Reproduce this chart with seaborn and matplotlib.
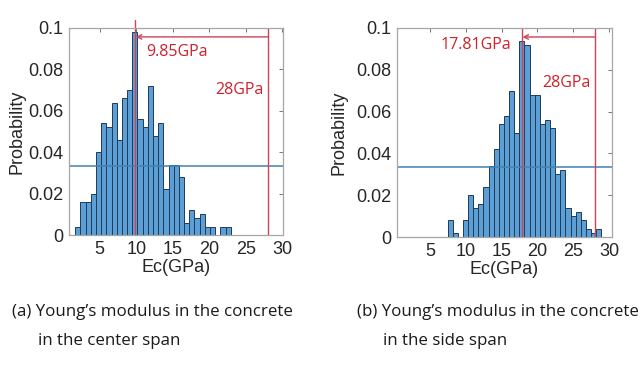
import numpy as np
import pandas as pd
import matplotlib
matplotlib.use("Agg")
import matplotlib.pyplot as plt
import seaborn as sns

# probability per bin (30 bins each)
center_probs = [0.004, 0.016, 0.016, 0.020, 0.040, 0.054, 0.052, 0.064, 0.046, 0.066,
                0.070, 0.098, 0.056, 0.052, 0.072, 0.048, 0.054, 0.022, 0.034, 0.034,
                0.028, 0.006, 0.012, 0.008, 0.010, 0.004, 0.004, 0.000, 0.004, 0.004]
side_probs = [0.008, 0.002, 0.000, 0.008, 0.020, 0.014, 0.016, 0.024, 0.034, 0.042,
              0.054, 0.058, 0.070, 0.050, 0.094, 0.092, 0.068, 0.068, 0.054, 0.056,
              0.052, 0.030, 0.032, 0.014, 0.010, 0.012, 0.008, 0.004, 0.002, 0.004]
center_range = (1.65, 22.95)
side_range = (7.45, 28.9)

center_peak = 9.85
side_peak = 17.81
limit_value = 28
uniform_level = 1 / 30

xticks = [5, 10, 15, 20, 25, 30]
yticks = [0, 0.02, 0.04, 0.06, 0.08, 0.1]
ytick_labels = ["0", "0.02", "0.04", "0.06", "0.08", "0.1"]

captions = ["(a) Young\u2019s modulus in the concrete\n     in the center span",
            "(b) Young\u2019s modulus in the concrete\n     in the side span"]

sns.set_style("white")
plt.rcParams["font.family"] = ["Liberation Sans", "DejaVu Sans"]

BAR = "#5b9fd6"
EDGE = "#1f3b57"
RED = "#d0202a"
RLINE = "#cc4455"
HLINE = "#3f82b4"


def draw_panel(ax, probs, rng, peak, xlim, label_pos, peak_text_pos, peak_ha,
               peak_top=1.0, ylabelpad=2):
    edges = np.linspace(rng[0], rng[1], len(probs) + 1)
    df = pd.DataFrame({"Ec": (edges[:-1] + edges[1:]) / 2, "p": probs})
    sns.histplot(data=df, x="Ec", weights="p", bins=edges.tolist(), ax=ax, color=BAR,
                 alpha=1, edgecolor=EDGE, linewidth=0.7)
    ax.axhline(uniform_level, color=HLINE, lw=1.1)
    ax.axvline(peak, ymax=peak_top, color=RLINE, lw=1.0, clip_on=False)
    ax.axvline(limit_value, color=RLINE, lw=1.0)
    ax.annotate("", xy=(peak + 0.1, 0.0957), xytext=(limit_value, 0.0957),
                arrowprops=dict(arrowstyle="->", color=RLINE, lw=1.0,
                                shrinkA=0, shrinkB=0, mutation_scale=8))
    ax.text(peak_text_pos[0], peak_text_pos[1], f"{peak}GPa", color=RED,
            fontsize=11.5, family=["Open Sans", "DejaVu Sans"], ha=peak_ha, va="center")
    ax.text(label_pos[0], label_pos[1], f"{limit_value}GPa", color=RED,
            fontsize=11.5, family=["Open Sans", "DejaVu Sans"], ha="left", va="center")
    ax.set_xlim(*xlim)
    ax.set_ylim(0, 0.1)
    ax.set_xticks(xticks)
    ax.set_yticks(yticks)
    ax.set_yticklabels(ytick_labels)
    ax.tick_params(direction="in", top=True, right=True, length=3, width=0.6,
                   labelsize=13, color="#606060", pad=4)
    for s in ax.spines.values():
        s.set_color("#a6a6a6")
        s.set_linewidth(0.9)
    ax.set_xlabel("Ec(GPa)", fontsize=13, labelpad=1)
    ax.set_ylabel("Probability", fontsize=13, labelpad=ylabelpad)


fig = plt.figure(figsize=(6.42, 3.70), dpi=100)
ax1 = fig.add_axes([69 / 642, 135 / 370, 214 / 642, 207 / 370])
ax2 = fig.add_axes([397 / 642, 133 / 370, 215 / 642, 209 / 370])

draw_panel(ax1, center_probs, center_range, center_peak, (0.8, 30.1),
           (20.8, 0.070), (11.4, 0.0885), "left", peak_top=1.04)
draw_panel(ax2, side_probs, side_range, side_peak, (0.4, 30.4),
           (20.6, 0.0735), (16.3, 0.092), "right", ylabelpad=6)

for i, x0 in enumerate([12, 357]):
    first, second = captions[i].split("\n")
    fig.text(x0 / 642, 1 - 312 / 370, first, fontsize=12.2, color="#1a1a1a",
             family=["Open Sans", "DejaVu Sans"], va="center")
    fig.text((x0 + 26) / 642, 1 - 341 / 370, second.strip(), fontsize=12.2,
             color="#1a1a1a", family=["Open Sans", "DejaVu Sans"], va="center")

fig.savefig("out.png", dpi=100)
